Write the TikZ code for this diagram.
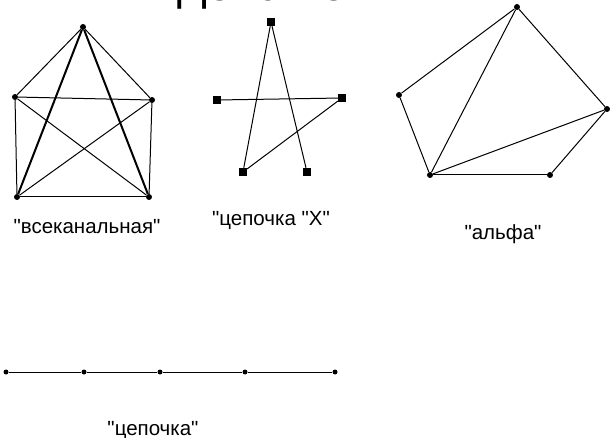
\documentclass[tikz,border=0pt]{standalone}
\usepackage{fontspec}
\setmainfont{Liberation Sans}
\newfontfamily\lblfont{Liberation Sans}
\begin{document}
\begin{tikzpicture}[x=1pt,y=-1pt,
  edge/.style={draw=black,line width=1pt},
  thick edge/.style={draw=black,line width=2pt},
  rdot/.style={circle,fill=black,inner sep=0pt,minimum size=6pt},
  sdot/.style={circle,fill=black,inner sep=0pt,minimum size=5pt},
  sq/.style={rectangle,fill=black,inner sep=0pt,minimum size=8pt},
  lbl/.style={font=\lblfont\fontsize{20.5}{23}\selectfont,inner sep=0pt,anchor=base}]
\useasboundingbox (0,0) rectangle (610,438);
\begin{scope}
\clip (0,0) rectangle (610,438);
\node[font=\lblfont\fontsize{44}{48}\selectfont,anchor=base,inner sep=0pt] (title) at (274,1) {Действен};
\end{scope}
% всеканальная
\node[rdot] (a1) at (83,27) {};
\node[rdot] (a2) at (15,97) {};
\node[rdot] (a3) at (152,100) {};
\node[rdot] (a4) at (17,197) {};
\node[rdot] (a5) at (149,197) {};
\draw[edge] (a1) -- (a2);
\draw[edge] (a1) -- (a3);
\draw[thick edge] (a1) -- (a4);
\draw[thick edge] (a1) -- (a5);
\draw[edge] (a2) -- (a3);
\draw[edge] (a2) -- (a4);
\draw[edge] (a3) -- (a5);
\draw[edge] (a2) -- (a5);
\draw[edge] (a3) -- (a4);
\draw[edge] (a4) -- (a5);
\node[lbl] (l1) at (87,234) {"всеканальная"};
% цепочка Х
\node[sq] (x1) at (271,22) {};
\node[sq] (x2) at (217,100) {};
\node[sq] (x3) at (342,98) {};
\node[sq] (x4) at (243,172) {};
\node[sq] (x5) at (307,172) {};
\draw[edge] (x1) -- (x4);
\draw[edge] (x1) -- (x5);
\draw[edge] (x2) -- (x3);
\draw[edge] (x3) -- (x4);
\node[lbl] (l2) at (271,226) {"цепочка "Х"};
% альфа
\node[rdot] (b1) at (517,7) {};
\node[rdot] (b2) at (399,95) {};
\node[rdot] (b3) at (607,109) {};
\node[rdot] (b4) at (430,175) {};
\node[rdot] (b5) at (550,175) {};
\draw[edge] (b1) -- (b2);
\draw[edge] (b1) -- (b4);
\draw[edge] (b1) -- (b3);
\draw[edge] (b2) -- (b4);
\draw[edge] (b4) -- (b3);
\draw[edge] (b4) -- (b5);
\draw[edge] (b5) -- (b3);
\node[lbl] (l3) at (503,240) {"альфа"};
% цепочка
\node[sdot] (c1) at (6,372) {};
\node[sdot] (c2) at (84,372) {};
\node[sdot] (c3) at (160,372) {};
\node[sdot] (c4) at (245,372) {};
\node[sdot] (c5) at (335,372) {};
\draw[edge] (c1) -- (c2) -- (c3) -- (c4) -- (c5);
\node[lbl] (l4) at (153,435) {"цепочка"};
\end{tikzpicture}
\end{document}
